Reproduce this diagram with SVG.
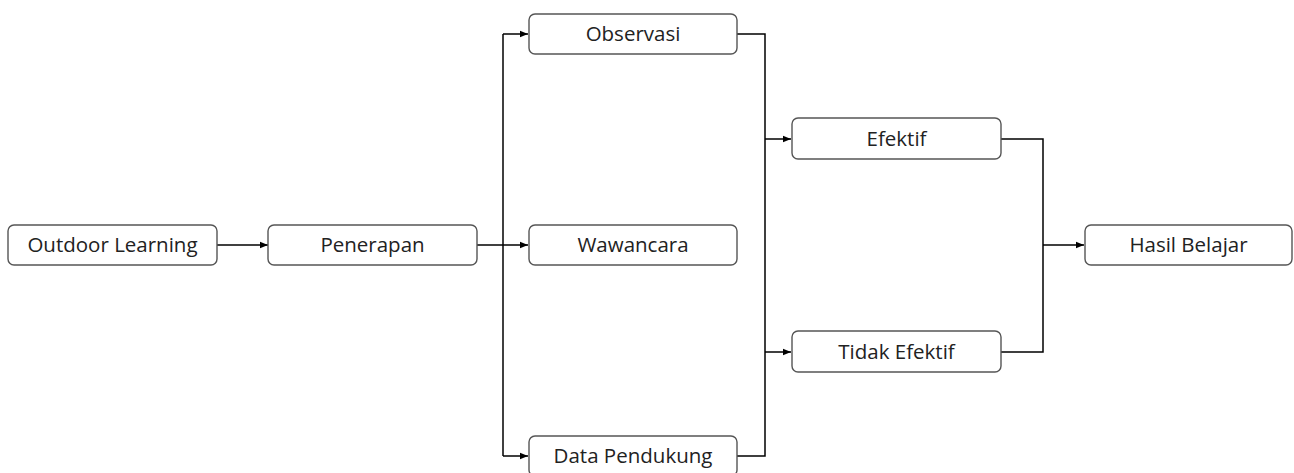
<svg xmlns="http://www.w3.org/2000/svg" width="1294" height="473" viewBox="0 0 1294 473">
<defs>
<marker id="ah" viewBox="0 0 8 8" refX="8" refY="4" markerWidth="8" markerHeight="8" markerUnits="userSpaceOnUse" orient="auto">
<path d="M0,0.8 L8,4 L0,7.2 Z" fill="#000"/>
</marker>
<style>
.box{fill:#fff;stroke:#555;stroke-width:1.4}
.lbl{font-family:"Open Sans","Noto Sans",sans-serif;font-size:20.5px;fill:#222;text-anchor:middle;dominant-baseline:central}
.ln{fill:none;stroke:#000;stroke-width:1.5}
.ar{fill:none;stroke:#000;stroke-width:1.5;marker-end:url(#ah)}
</style>
</defs>
<rect width="1294" height="473" fill="#fff"/>
<g id="connectors">
<line class="ar" x1="217" y1="245" x2="268" y2="245"/>
<line class="ln" x1="477" y1="245" x2="503" y2="245"/>
<line class="ln" x1="503" y1="34" x2="503" y2="456"/>
<line class="ar" x1="503" y1="34" x2="528" y2="34"/>
<line class="ar" x1="503" y1="245" x2="528" y2="245"/>
<line class="ar" x1="503" y1="456" x2="528" y2="456"/>
<polyline class="ln" points="737,34 765,34 765,456 737,456"/>
<line class="ar" x1="765" y1="139" x2="791" y2="139"/>
<line class="ar" x1="765" y1="352" x2="791" y2="352"/>
<polyline class="ln" points="1001,139 1043,139 1043,352 1001,352"/>
<line class="ar" x1="1043" y1="245" x2="1084" y2="245"/>
</g>
<g id="outdoor"><rect class="box" x="8" y="225" width="209" height="40" rx="6"/><text class="lbl" x="112.5" y="244">Outdoor Learning</text></g>
<g id="penerapan"><rect class="box" x="268" y="225" width="209" height="40" rx="6"/><text class="lbl" x="372.5" y="244">Penerapan</text></g>
<g id="observasi"><rect class="box" x="529" y="14" width="208" height="40" rx="6"/><text class="lbl" x="633" y="33">Observasi</text></g>
<g id="wawancara"><rect class="box" x="529" y="225" width="208" height="40" rx="6"/><text class="lbl" x="633" y="244">Wawancara</text></g>
<g id="datapendukung"><rect class="box" x="529" y="436" width="208" height="40" rx="6"/><text class="lbl" x="633" y="455">Data Pendukung</text></g>
<g id="efektif"><rect class="box" x="792" y="118" width="209" height="41" rx="6"/><text class="lbl" x="896.5" y="138">Efektif</text></g>
<g id="tidakefektif"><rect class="box" x="792" y="331" width="209" height="41" rx="6"/><text class="lbl" x="896.5" y="351">Tidak Efektif</text></g>
<g id="hasil"><rect class="box" x="1085" y="225" width="207" height="40" rx="6"/><text class="lbl" x="1188.5" y="244">Hasil Belajar</text></g>
</svg>
